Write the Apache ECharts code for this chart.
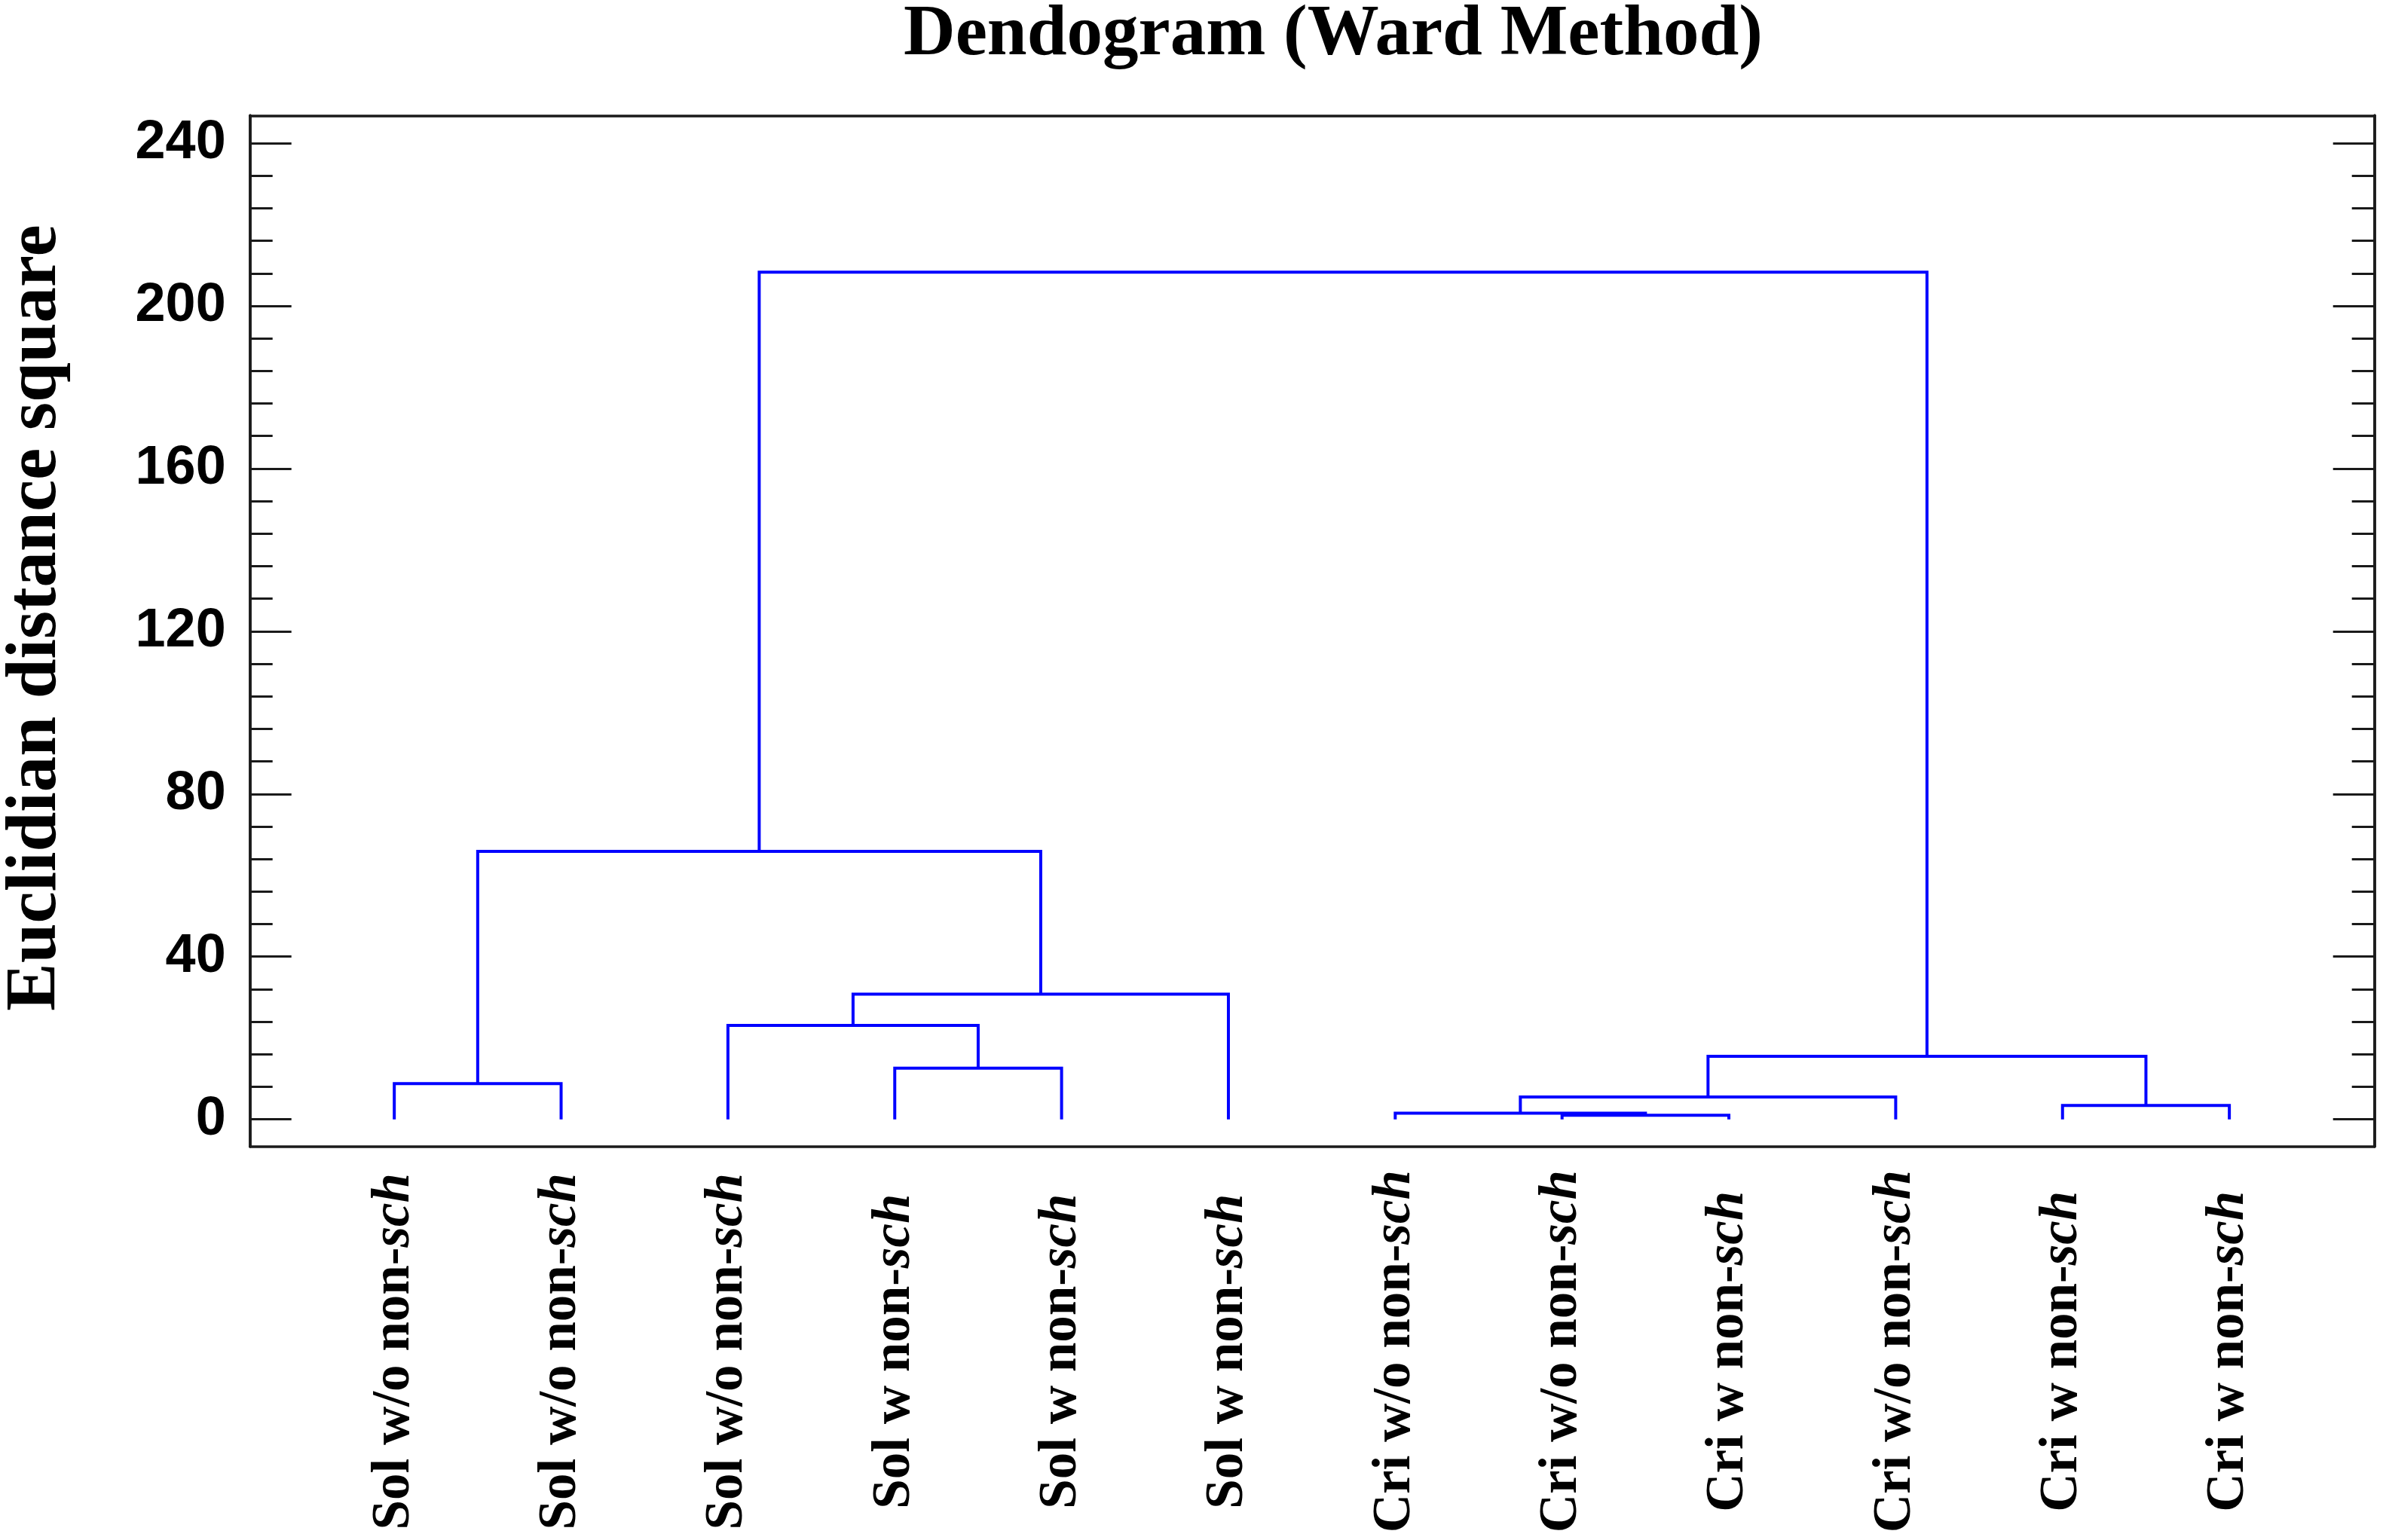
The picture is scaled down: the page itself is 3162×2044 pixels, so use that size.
<!DOCTYPE html>
<html>
<head>
<meta charset="utf-8">
<title>Dendogram (Ward Method)</title>
<script src="https://cdn.jsdelivr.net/npm/echarts@6/dist/echarts.min.js"></script>
<style>
    html, body { margin: 0; padding: 0; background: #fff; }
    #chart { width: 3162px; height: 2044px; }
</style>
</head>
<body>
<div id="chart"></div>
<script>
// leaf groups, left to right (label = group + ' non-sch')
var leafGroup = ['Sol w/o', 'Sol w/o', 'Sol w/o', 'Sol w', 'Sol w', 'Sol w',
    'Cri w/o', 'Cri w/o', 'Cri w', 'Cri w/o', 'Cri w', 'Cri w'];
// merges: ids 0-11 are leaves, 12+ are the merges below in order
var mergeLeft = [7, 6, 10, 13, 0, 3, 15, 2, 19, 16, 21];
var mergeRight = [8, 12, 11, 9, 1, 4, 14, 17, 5, 20, 18];
var mergeHeight = [1.0, 1.5, 3.4, 5.5, 8.8, 12.6, 15.5, 23.1, 30.8, 65.9, 208.3];
// y axis ticks
var majorTicks = [0, 40, 80, 120, 160, 200, 240];
var minorTicks = [8, 16, 24, 32, 48, 56, 64, 72, 88, 96, 104, 112,
    128, 136, 144, 152, 168, 176, 184, 192, 208, 216, 224, 232];

var leafPos = [];
for (var i = 0; i < leafGroup.length; i++) {
    leafPos.push(i + 1);
}

// build the U shaped links of the tree
var nodeX = leafPos.slice();
var nodeH = leafPos.map(function () { return 0; });
var links = [];
for (var k = 0; k < mergeLeft.length; k++) {
    var l = mergeLeft[k], r = mergeRight[k], h = mergeHeight[k];
    links.push({
        coords: [[nodeX[l], nodeH[l]], [nodeX[l], h], [nodeX[r], h], [nodeX[r], nodeH[r]]]
    });
    nodeX.push((nodeX[l] + nodeX[r]) / 2);
    nodeH.push(h);
}

var frameColor = '#1a1a1a';
var serif = 'Liberation Serif';
var yMin = -6.67, yMax = 246.8;

function yAxisOf(position, ticks, len, withLabel) {
    return {
        type: 'value',
        position: position,
        min: yMin,
        max: yMax,
        splitLine: { show: false },
        axisLine: { show: true, onZero: false, lineStyle: { color: frameColor, width: 3.5 } },
        axisTick: {
            show: true,
            inside: true,
            length: len,
            customValues: ticks,
            lineStyle: { color: frameColor, width: 3 }
        },
        axisLabel: {
            show: withLabel,
            customValues: ticks,
            margin: 32,
            color: '#000',
            fontFamily: 'Liberation Sans',
            fontWeight: 'bold',
            fontSize: 72
        }
    };
}

var chart = echarts.init(document.getElementById('chart'));
var yLeft = yAxisOf('left', majorTicks, 55, true);
yLeft.name = 'Euclidian distance square';
yLeft.nameLocation = 'middle';
yLeft.nameRotate = 90;
yLeft.nameGap = 236;
yLeft.nameTextStyle = {
    color: '#000',
    fontFamily: serif,
    fontWeight: 'bold',
    fontSize: 95,
    padding: [0, 0, 0, 35]
};

option = {
    backgroundColor: '#fff',
    animation: false,
    title: {
        text: 'Dendogram (Ward Method)',
        left: 1769,
        textAlign: 'center',
        top: 0,
        padding: 0,
        textStyle: {
            color: '#000',
            fontFamily: serif,
            fontWeight: 'bold',
            fontSize: 95
        }
    },
    grid: {
        left: 331.7,
        right: 11.3,
        top: 153.3,
        bottom: 522.3,
        outerBoundsMode: 'none'
    },
    xAxis: [
        {
            type: 'value',
            position: 'bottom',
            min: 0.135,
            max: 12.87,
            splitLine: { show: false },
            axisLine: { show: true, onZero: false, lineStyle: { color: frameColor, width: 3.5 } },
            axisTick: { show: false },
            axisLabel: {
                customValues: leafPos,
                rotate: 90,
                align: 'center',
                verticalAlign: 'middle',
                margin: 272,
                formatter: function (v) {
                    var g = leafGroup[Math.round(v) - 1];
                    return '{a|' + g + ' non-}{i|sch}';
                },
                rich: {
                    a: { color: '#000', fontFamily: serif, fontWeight: 'bold', fontSize: 71 },
                    i: { color: '#000', fontFamily: serif, fontWeight: 'bold', fontStyle: 'italic', fontSize: 71 }
                }
            }
        },
        {
            type: 'value',
            position: 'top',
            min: 0.135,
            max: 12.87,
            splitLine: { show: false },
            axisLine: { show: true, onZero: false, lineStyle: { color: frameColor, width: 3.5 } },
            axisTick: { show: false },
            axisLabel: { show: false }
        }
    ],
    yAxis: [
        yLeft,
        yAxisOf('left', minorTicks, 30, false),
        yAxisOf('right', majorTicks, 55, false),
        yAxisOf('right', minorTicks, 30, false)
    ],
    series: [
        {
            type: 'lines',
            coordinateSystem: 'cartesian2d',
            polyline: true,
            silent: true,
            z: 3,
            lineStyle: { color: '#0000ff', width: 4, opacity: 1 },
            data: links
        }
    ]
};
chart.setOption(option);
</script>
</body>
</html>
